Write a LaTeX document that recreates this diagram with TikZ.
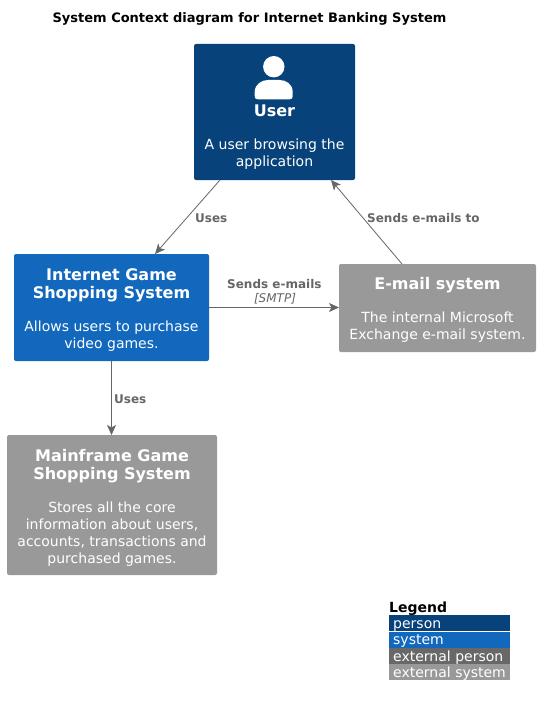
\documentclass[tikz,border=0pt]{standalone}
\usepackage{fontspec}
\setmainfont{DejaVu Sans}
\usetikzlibrary{arrows.meta,calc}
\definecolor{personc}{HTML}{08427B}
\definecolor{systemc}{HTML}{1168BD}
\definecolor{extsys}{HTML}{999999}
\definecolor{extper}{HTML}{686868}
\definecolor{linec}{HTML}{666666}
\newcommand{\ft}{\fontsize{16bp}{18.5bp}\selectfont\bfseries}
\newcommand{\fd}{\fontsize{14bp}{17bp}\selectfont\mdseries}
\newcommand{\gap}{\par\vspace{16bp}}
\newcommand{\topr}[1]{\rule{0pt}{#1bp}}
\tikzset{
  x=1bp,y=-1bp,
  box/.style={rounded corners=2bp,text=white,align=flush center,inner sep=0pt,outer sep=0pt,anchor=north west},
  rel/.style={draw=linec,line width=0.8bp,-{Stealth[length=10bp,width=9bp,inset=2.5bp]}},
  rellab/.style={text=linec,font=\fontsize{12bp}{14bp}\selectfont\bfseries,inner sep=0pt,anchor=base west},
  relital/.style={text=linec,font=\fontsize{12bp}{14bp}\selectfont\itshape,inner sep=0pt,anchor=base},
  legrow/.style={anchor=north west,inner sep=0pt,outer sep=0pt,minimum width=121bp,minimum height=15.6bp},
  legtext/.style={text=white,font=\fontsize{14bp}{16bp}\selectfont,inner sep=0pt,anchor=base west},
}
\begin{document}
\begin{tikzpicture}
\useasboundingbox (0,0) rectangle (540,706);
\fill[white] (0,0) rectangle (540,706);
\node[font=\fontsize{13bp}{16bp}\selectfont\bfseries,inner sep=0pt,anchor=base] (title) at (249.5,23) {System Context diagram for Internet Banking System};

\node[box,fill=personc,minimum width=161bp,minimum height=136bp,text width=155bp] (user) at (194,44)
  {\ft\topr{62}User\gap\fd A user browsing the\\application\par};
\fill[white] (273.8,66.7) circle (10.7bp);
\fill[white] (257.7,99.3) .. controls (255.7,99.3) and (254.7,98.3) .. (254.7,96.3) -- (254.7,92) .. controls (254.7,84) and (262,80) .. (268,80) -- (279.5,80) .. controls (286,80) and (292.7,84) .. (292.7,92) -- (292.7,96.3) .. controls (292.7,98.3) and (291.7,99.3) .. (289.7,99.3) -- cycle;

\node[box,fill=systemc,minimum width=195bp,minimum height=107bp,text width=189bp] (internet) at (14,254)
  {\ft\topr{17}Internet Game\\Shopping System\gap\fd Allows users to purchase\\video games.\par};
\node[box,fill=extsys,minimum width=197bp,minimum height=88bp,text width=191bp] (email) at (339,264)
  {\ft\topr{15.5}E-mail system\gap\fd The internal Microsoft\\Exchange e-mail system.\par};
\node[box,fill=extsys,minimum width=210bp,minimum height=140bp,text width=204bp] (mainframe) at (7,435)
  {\ft\topr{17.5}Mainframe Game\\Shopping System\gap\fd Stores all the core\\information about users,\\accounts, transactions and\\purchased games.\par};

\draw[rel] ([xshift=-54.5bp]user.south) -- ([xshift=43.5bp]internet.north);
\draw[rel] ([xshift=-35.5bp]email.north) -- ([xshift=56.5bp]user.south);
\draw[rel] ([yshift=0bp]internet.east) -- (email.west |- internet.east);
\draw[rel] (internet.south) -- (internet.south |- mainframe.north);

\node[rellab] (l1) at (195,222) {Uses};
\node[rellab] (l2) at (367,222) {Sends e-mails to};
\node[rellab] (l3) at (227,288) {Sends e-mails};
\node[relital] (l3b) at (275,302) {[SMTP]};
\node[rellab] (l4) at (114,403) {Uses};

\node[font=\fontsize{14bp}{16bp}\selectfont\bfseries,inner sep=0pt,anchor=base west] (legend) at (389,612) {Legend};
\node[legrow,fill=personc] (lr1) at (389,615.2) {};
\node[legrow,fill=systemc] (lr2) at (389,632) {};
\node[legrow,fill=extper] (lr3) at (389,648.2) {};
\node[legrow,fill=extsys] (lr4) at (389,664.4) {};
\node[legtext] (lt1) at (393,628) {person};
\node[legtext] (lt2) at (393,644.5) {system};
\node[legtext] (lt3) at (393,661) {external person};
\node[legtext] (lt4) at (393,677) {external system};
\end{tikzpicture}
\end{document}
